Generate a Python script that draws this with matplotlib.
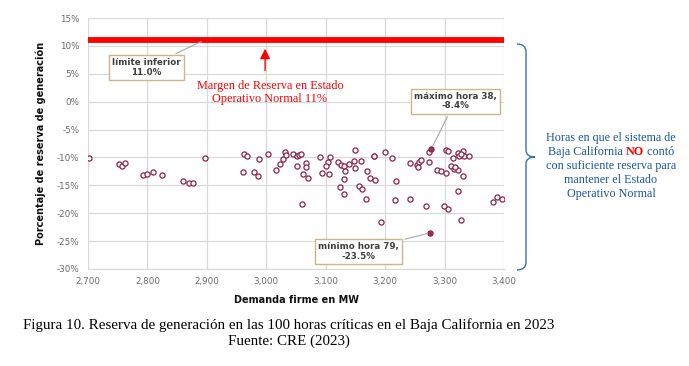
import numpy as np
import matplotlib
matplotlib.use("Agg")
import matplotlib.pyplot as plt
from matplotlib.path import Path
from matplotlib.patches import PathPatch
from matplotlib.ticker import FuncFormatter

# === Datos: demanda firme (MW) y reserva (%) en las 100 horas criticas ===
demanda = [2702, 2752, 2758, 2762, 2792, 2800, 2809, 2825, 2860, 2870, 2877, 2897,
           2960, 2962, 2967, 2979, 2986, 2987, 3003,
           3016, 3023, 3028, 3032, 3034, 3045, 3051, 3055, 3059, 3051, 3067, 3067,
           3061, 3071, 3060, 3090, 3094, 3106, 3107, 3104, 3100, 3120, 3125, 3130,
           3132, 3131, 3124, 3130, 3149, 3147, 3159, 3150, 3169, 3175, 3183, 3156,
           3161, 3168, 3181, 3182, 3200, 3211, 3219, 3216, 3193, 3241, 3241, 3140,
           3254, 3257, 3260, 3255, 3273, 3274, 3268, 3288, 3294, 3303, 3306,
           3302, 3299, 3305, 3311, 3316, 3323, 3315, 3322, 3325, 3331, 3333, 3341,
           3331, 3322, 3328, 3328, 3318, 3381, 3388, 3396]
reserva = [-10.1, -11.2, -11.6, -11.0, -13.1, -13.0, -12.6, -13.1, -14.3, -14.6, -14.5, -10.05,
           -12.6, -9.3, -9.7, -12.6, -13.4, -10.2, -9.3,
           -12.25, -11.1, -10.2, -9.0, -9.6, -9.4, -9.75, -9.5, -9.4, -11.6, -11.0, -11.8,
           -13.0, -13.7, -18.3, -10.0, -12.8, -13.0, -9.9, -10.8, -11.5, -10.8, -11.4, -11.6,
           -12.4, -13.9, -15.3, -16.5, -8.75, -10.7, -10.7, -11.9, -12.5, -13.6, -14.0, -15.2,
           -15.6, -17.4, -9.8, -9.7, -9.0, -10.1, -14.3, -17.7, -21.6, -11.0, -17.4, -11.2,
           -11.3, -10.9, -10.5, -11.7, -10.9, -9.0, -18.75, -12.3, -12.5, -8.6, -8.9,
           -12.8, -18.75, -19.2, -11.6, -12.1, -12.2, -10.1, -9.2, -9.7, -8.9, -9.8, -9.7,
           -13.4, -15.95, -21.25, -9.3, -11.8, -18.0, -17.1, -17.4]

max_pt = (3278, -8.4)   # maximo hora 38
min_pt = (3276, -23.5)  # minimo hora 79
limite = 11.0

xticks = [2700, 2800, 2900, 3000, 3100, 3200, 3300, 3400]
yticks = [15, 10, 5, 0, -5, -10, -15, -20, -25, -30]

W, H = 689, 366
fig = plt.figure(figsize=(W/100, H/100), dpi=100)

def fx(px):
    return px / W

def fy(py):
    return 1 - py / H

# ejes en pixeles de la figura original
ax = fig.add_axes([fx(88), fy(269), fx(504) - fx(88), fy(18) - fy(269)])
ax.set_xlim(2700, 3400)
ax.set_ylim(-30, 15)
ax.set_xticks(xticks)
ax.set_yticks(yticks)
ax.xaxis.set_major_formatter(FuncFormatter(lambda v, p: f"{int(v):,}"))
ax.yaxis.set_major_formatter(FuncFormatter(lambda v, p: f"{int(v)}%"))
ax.tick_params(length=0, labelsize=6.3, labelcolor="#6A6A6A", pad=6)
ax.grid(True, color="#D9D9D9", lw=0.9)
ax.set_axisbelow(True)
for s in ["top", "right", "left"]:
    ax.spines[s].set_visible(False)
ax.spines["bottom"].set_color("#D9D9D9")

ax.set_xlabel("Demanda firme en MW", fontsize=7, fontweight="bold", labelpad=6, color="#111111")
ax.set_ylabel("Porcentaje de reserva de generación", fontsize=7, fontweight="bold", labelpad=8, color="#111111")

# puntos
mk = dict(mec="#8E2446", ms=3.7, mew=0.9)
ax.plot(demanda, reserva, "o", mfc="white", ls="none", zorder=3, **mk)
ax.plot(*max_pt, "o", mfc="#A0304E", zorder=4, **mk)
ax.plot(*min_pt, "o", mfc="#A0304E", zorder=4, **mk)

# linea de limite inferior
ax.axhline(limite, color="#FF0000", lw=4.2, zorder=5, clip_on=False, solid_capstyle="butt")

box = dict(boxstyle="square,pad=0.35", fc="white", ec="#C9B788", lw=1.0)
txt_kw = dict(fontsize=6.3, fontweight="bold", color="#404040", ha="center", va="center",
              linespacing=1.1, bbox=box, zorder=6)
line_kw = dict(arrowstyle="-", color="#A6A6A6", lw=0.8)

ax.annotate(f"límite inferior\n{limite:.1f}%", xy=(2895, limite), xytext=(2798, 6.1),
            arrowprops=line_kw, **txt_kw)
ax.annotate(f"máximo hora 38,\n{max_pt[1]}%", xy=max_pt, xytext=(3318, 0.1),
            arrowprops=line_kw, **txt_kw)
ax.annotate(f"mínimo hora 79,\n{min_pt[1]}%", xy=min_pt, xytext=(3155, -26.8),
            arrowprops=line_kw, **txt_kw)

# flecha roja y texto
ax.annotate("", xy=(2998, 10.0), xytext=(2998, 5.1),
            arrowprops=dict(arrowstyle="-|>,head_length=0.6,head_width=0.3", color="#FF0000", lw=1.0))
ax.text(3006, 1.6, "Margen de Reserva en Estado\nOperativo Normal 11%", color="#FF0000",
        fontsize=8.8, family="Liberation Serif", ha="center", va="center", linespacing=1.15)

# llave azul a la derecha
tip = 535
verts = [(517, 44), (526, 44), (526, 52), (526, 150), (526, 157), (tip, 157),
         (526, 157), (526, 164), (526, 262), (526, 270), (517, 270)]
codes = [Path.MOVETO, Path.CURVE3, Path.CURVE3, Path.LINETO, Path.CURVE3, Path.CURVE3,
         Path.CURVE3, Path.CURVE3, Path.LINETO, Path.CURVE3, Path.CURVE3]
verts = [(fx(a), fy(b)) for a, b in verts]
fig.patches.append(PathPatch(Path(verts, codes), fill=False, ec="#2E75B6", lw=1.0,
                             transform=fig.transFigure))

# texto azul
blue = "#1A56A0"
lines = ["Horas en que el sistema de", None, "con suficiente reserva para",
         "mantener el Estado", "Operativo Normal"]
cx = fx(611)
serif = dict(fontsize=8.7, family="Liberation Serif", va="center")
for i, ln in enumerate(lines):
    yy = fy(138 + 14 * i)
    if ln is not None:
        fig.text(cx, yy, ln, color=blue, ha="center", **serif)
    else:
        r = fig.canvas.get_renderer()
        parts = [("Baja California ", blue, "normal"), ("NO", "#FF0000", "bold"), (" contó", blue, "normal")]
        objs = [fig.text(0, yy, p, color=c, fontweight=w, ha="left", **serif) for p, c, w in parts]
        widths = [o.get_window_extent(r).width / fig.bbox.width for o in objs]
        x0 = cx - sum(widths) / 2
        for o, w in zip(objs, widths):
            o.set_x(x0)
            x0 += w

# pie de figura
fig.text(fx(289), fy(325), "Figura 10. Reserva de generación en las 100 horas críticas en el Baja California en 2023",
         fontsize=10.8, family="Liberation Serif", ha="center", va="center")
fig.text(fx(289), fy(341), "Fuente: CRE (2023)", fontsize=10.8, family="Liberation Serif",
         ha="center", va="center")

fig.savefig("out.png", dpi=100)
